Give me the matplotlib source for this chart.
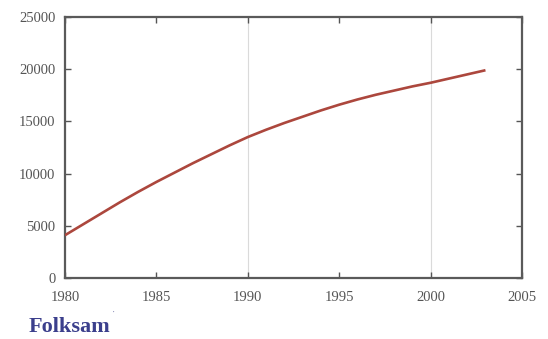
import numpy as np
import matplotlib.pyplot as plt

# data
years = [1980, 1981, 1982, 1983, 1984, 1985, 1986, 1987, 1988, 1989, 1990, 1991,
         1992, 1993, 1994, 1995, 1996, 1997, 1998, 1999, 2000, 2001, 2002, 2003]
values = [4100, 5150, 6200, 7250, 8250, 9200, 10100, 11000, 11850, 12700, 13500, 14200,
          14850, 15450, 16050, 16600, 17100, 17550, 17950, 18350, 18700, 19100, 19500, 19900]

x_ticks = [1980, 1985, 1990, 1995, 2000, 2005]
y_ticks = [0, 5000, 10000, 15000, 20000, 25000]
grid_years = [1990, 2000]

plt.rcParams['font.family'] = ['Liberation Serif', 'DejaVu Serif']

fig = plt.figure(figsize=(5.48, 3.39), dpi=100)
ax = fig.add_axes([0.1186, 0.1799, 0.834, 0.770])

for g in grid_years:
    ax.axvline(g, color='#dadada', linewidth=0.8, zorder=0)

ax.plot(years, values, color='#ac473d', linewidth=1.9, solid_capstyle='butt', zorder=3)

ax.set_xlim(1980, 2005)
ax.set_ylim(0, 25000)
ax.set_xticks(x_ticks)
ax.set_yticks(y_ticks)
ax.set_xticklabels([str(t) for t in x_ticks])
ax.set_yticklabels([str(t) for t in y_ticks])

ax.tick_params(direction='in', top=True, right=True, length=4, width=1,
               color='#555555', labelcolor='#555555', labelsize=10.5)
ax.tick_params(axis='x', pad=9)
ax.tick_params(axis='y', pad=7)
for s in ax.spines.values():
    s.set_color('#5a5a5a')
    s.set_linewidth(1.6)

# logo text
fig.text(0.052, 0.022, 'Folksam', color='#3b3f8c', fontsize=16, fontweight='bold',
         ha='left', va='baseline')
fig.text(0.204, 0.07, '\u00b7', color='#8a8db8', fontsize=7, ha='left', va='baseline')

fig.savefig('out.png', dpi=100)
